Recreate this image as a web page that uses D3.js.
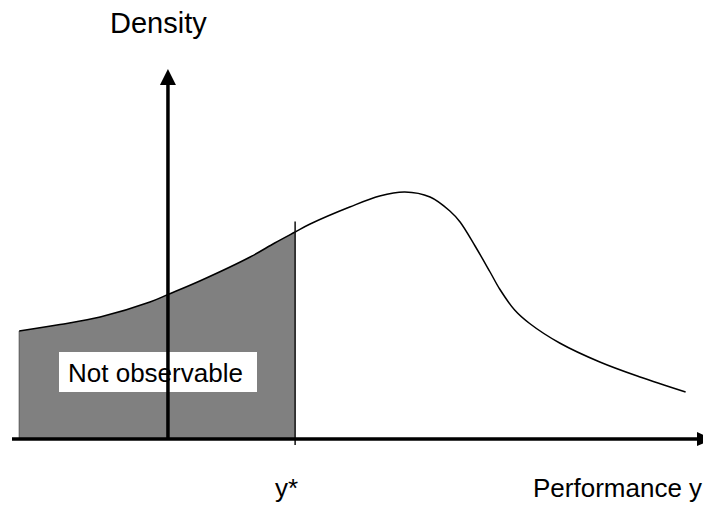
<!DOCTYPE html>
<html>
<head>
<meta charset="utf-8">
<script src="https://cdn.jsdelivr.net/npm/d3@7"></script>
<style>
  html, body { margin: 0; padding: 0; background: #fff; overflow: hidden; }
  svg { display: block; font-family: "Liberation Sans", Arial, sans-serif; }
</style>
</head>
<body>
<svg id="chart" width="703" height="505"></svg>
<script>
// performance (x) and density (y)
const perf = [-2.48, -1.8, -1.13, -0.3, 0, 0.53, 1.37, 1.78, 2.12, 2.37, 3.03, 3.53, 3.95, 4.37, 4.7, 4.87, 5.12, 5.37, 5.53, 5.78, 6.03, 6.53, 7.2, 7.87, 8.63];
const density = [0.432, 0.458, 0.488, 0.548, 0.578, 0.632, 0.728, 0.784, 0.828, 0.86, 0.928, 0.972, 0.988, 0.968, 0.912, 0.868, 0.772, 0.668, 0.6, 0.516, 0.462, 0.384, 0.308, 0.248, 0.188];
const yStar = 2.12;
const labels = { yAxis: "Density", xAxis: "Performance y", cut: "y*", region: "Not observable" };

const svg = d3.select("#chart");

const x = d3.scaleLinear().domain([-2.6, 8.87]).range([12, 700]);
const y = d3.scaleLinear().domain([0, 1]).range([439, 189]);

const pts = perf.map((p, i) => [p, density[i]]);

// shaded part left of y*
svg.append("clipPath").attr("id", "cut")
  .append("rect")
  .attr("x", 0).attr("y", 0)
  .attr("width", x(yStar)).attr("height", 505);

const area = d3.area()
  .x(d => x(d[0]))
  .y0(y(0))
  .y1(d => y(d[1]))
  .curve(d3.curveCatmullRom);

svg.append("path")
  .datum(pts)
  .attr("d", area)
  .attr("clip-path", "url(#cut)")
  .attr("fill", "#808080")
  .attr("stroke", "none");

// thin left edge of shade
svg.append("line")
  .attr("x1", x(perf[0])).attr("x2", x(perf[0]))
  .attr("y1", y(density[0])).attr("y2", y(0))
  .attr("stroke", "#555").attr("stroke-width", 1);

// the density curve
const line = d3.line()
  .x(d => x(d[0]))
  .y(d => y(d[1]))
  .curve(d3.curveCatmullRom);

svg.append("path")
  .datum(pts)
  .attr("d", line)
  .attr("fill", "none")
  .attr("stroke", "#000")
  .attr("stroke-width", 1.5);

// y* line
svg.append("line")
  .attr("x1", x(yStar)).attr("x2", x(yStar))
  .attr("y1", y(0.87)).attr("y2", y(0) + 6)
  .attr("stroke", "#111").attr("stroke-width", 1.5);

// label box
const box = svg.append("g");
box.append("rect")
  .attr("x", 59).attr("y", 352)
  .attr("width", 198).attr("height", 40)
  .attr("fill", "#fff");
box.append("text")
  .attr("x", 68).attr("y", 382)
  .attr("font-size", 26)
  .text(labels.region);

// axes with arrows
const x0 = x(0), yBase = y(0);
svg.append("line")
  .attr("x1", 12).attr("x2", 698)
  .attr("y1", yBase).attr("y2", yBase)
  .attr("stroke", "#000").attr("stroke-width", 3.5);
svg.append("path")
  .attr("d", `M697,${yBase - 7}L713,${yBase}L697,${yBase + 7}Z`)
  .attr("fill", "#000");

svg.append("line")
  .attr("x1", x0).attr("x2", x0)
  .attr("y1", yBase).attr("y2", 84)
  .attr("stroke", "#000").attr("stroke-width", 3.5);
svg.append("path")
  .attr("d", `M${x0 - 8},85L${x0},69L${x0 + 8},85Z`)
  .attr("fill", "#000");

// texts
svg.append("text")
  .attr("x", 110).attr("y", 33)
  .attr("font-size", 29)
  .text(labels.yAxis);

svg.append("text")
  .attr("x", 275).attr("y", 497)
  .attr("font-size", 26)
  .text(labels.cut);

svg.append("text")
  .attr("x", 533).attr("y", 497)
  .attr("font-size", 26)
  .text(labels.xAxis);
</script>
</body>
</html>
